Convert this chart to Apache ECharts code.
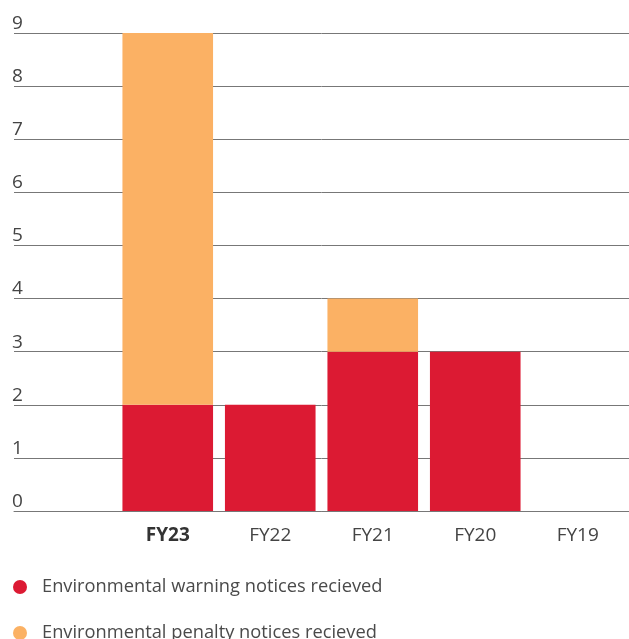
<!DOCTYPE html>
<html>
<head>
<meta charset="utf-8">
<script src="https://cdn.jsdelivr.net/npm/echarts@6/dist/echarts.min.js"></script>
<style>
html, body { margin: 0; padding: 0; background: #fff; }
#chart { width: 629px; height: 639px; }
</style>
</head>
<body>
<div id="chart"></div>
<script>
// 数据
var years = ['FY23', 'FY22', 'FY21', 'FY20', 'FY19'];
var warningNotices = [2, 2, 3, 3, 0];
var penaltyNotices = [7, 0, 1, 0, 0];
var yTicks = [0, 1, 2, 3, 4, 5, 6, 7, 8, 9];
var warnName = 'Environmental warning notices recieved';
var penName = 'Environmental penalty notices recieved';

// 前面留一个空位
var axisCats = [''].concat(years);
var warnData = ['-'].concat(warningNotices);
var penData = ['-'].concat(penaltyNotices);

var chart = echarts.init(document.getElementById('chart'));

function legendAt(top, name) {
    return {
        orient: 'vertical',
        left: 8,
        top: top,
        icon: 'circle',
        itemWidth: 14,
        itemHeight: 14,
        textStyle: { fontFamily: 'Open Sans', fontSize: 18.3, color: '#4a4a4a', padding: [0, 0, 0, 10] },
        data: [name]
    };
}

var option = {
    animation: false,
    textStyle: { fontFamily: 'Open Sans' },
    color: ['#dc1a33', '#fbb164'],
    grid: { left: 14, top: 33, width: 618, height: 478, containLabel: false },
    legend: [legendAt(573, warnName), legendAt(619, penName)],
    xAxis: {
        type: 'category',
        data: axisCats,
        axisLine: { lineStyle: { color: '#777', width: 1 } },
        axisTick: { show: false },
        axisLabel: {
            margin: 15,
            fontSize: 19,
            color: '#444',
            formatter: function (v) {
                return v === years[0] ? '{b|' + v + '}' : v;
            },
            rich: { b: { fontWeight: 'bold', fontSize: 19, color: '#333' } }
        }
    },
    yAxis: {
        type: 'value',
        min: 0,
        max: yTicks[yTicks.length - 1],
        interval: 1,
        axisLine: { show: false },
        axisTick: { show: false },
        splitLine: { lineStyle: { color: '#777', width: 1 } },
        axisLabel: {
            inside: true,
            margin: -2,
            verticalAlign: 'bottom',
            padding: [0, 0, 0, 0],
            fontSize: 19,
            color: '#444'
        }
    },
    series: [
        {
            name: warnName,
            type: 'bar',
            stack: 'n',
            barCategoryGap: '11.6%',
            data: warnData
        },
        {
            name: penName,
            type: 'bar',
            stack: 'n',
            barCategoryGap: '11.6%',
            data: penData
        }
    ]
};

chart.setOption(option);
</script>
</body>
</html>
